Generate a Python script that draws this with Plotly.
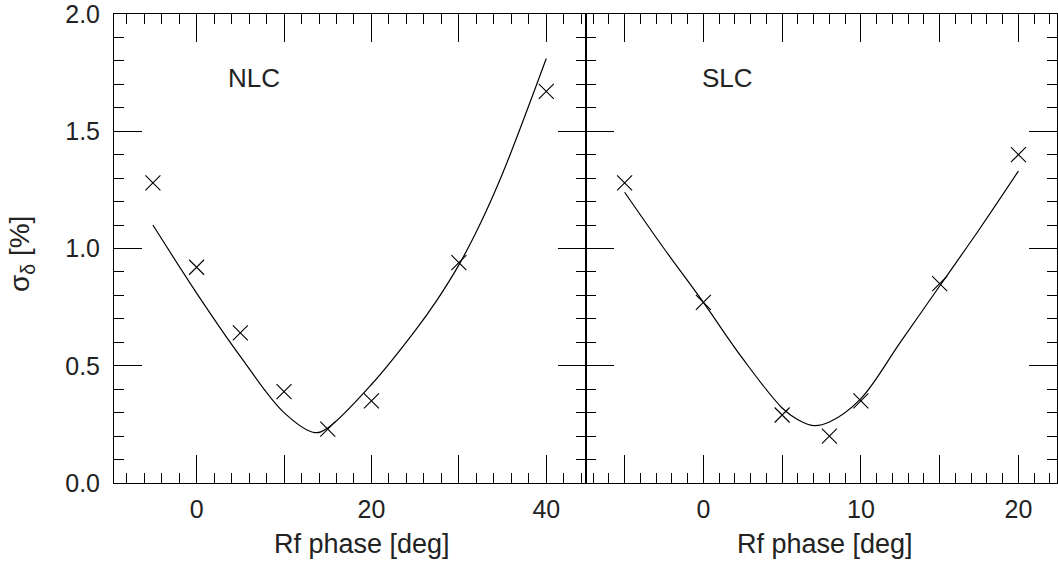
import plotly.graph_objects as go

# ---- data ----
nlc_phase = [-5, 0, 5, 10, 15, 20, 30, 40]
nlc_sigma = [1.28, 0.92, 0.64, 0.39, 0.23, 0.35, 0.94, 1.67]
nlc_fit_phase = [-5, 0, 5, 10, 13.5, 15, 20, 25, 27.5, 30, 32.5, 35, 37.5, 40]
nlc_fit_sigma = [1.10, 0.81, 0.54, 0.30, 0.215, 0.235, 0.42, 0.65, 0.78, 0.93, 1.11, 1.32, 1.56, 1.81]

slc_phase = [-5, 0, 5, 8, 10, 15, 20]
slc_sigma = [1.28, 0.77, 0.29, 0.20, 0.35, 0.85, 1.40]
slc_fit_phase = [-5, -2.5, 0, 2.5, 5, 6, 7, 8, 10, 12.5, 15, 17.5, 20]
slc_fit_sigma = [1.24, 1.00, 0.77, 0.53, 0.32, 0.27, 0.245, 0.26, 0.36, 0.60, 0.84, 1.08, 1.33]

nlc_tickvals = [0, 10, 20, 30, 40]
nlc_ticktext = ["0", " ", "20", " ", "40"]
slc_tickvals = [-5, 0, 5, 10, 15, 20]
slc_ticktext = [" ", "0", " ", "10", " ", "20"]
y_tickvals = [0, 0.5, 1.0, 1.5, 2.0]
y_ticktext = ["0.0", "0.5", "1.0", "1.5", "2.0"]

FONT = "Liberation Sans, Arial, sans-serif"
TXT = "#222222"
W, H = 1058, 561
L, R, T, B = 114, 0, 12, 78
split = (587 - L) / (W - L - R)

fig = go.Figure()
marker = dict(symbol="x-thin", size=15, line=dict(width=1.1, color="black"), color="black")
fig.add_trace(go.Scatter(x=nlc_fit_phase, y=nlc_fit_sigma, mode="lines", line=dict(color="black", width=1.2, shape="spline"), xaxis="x", yaxis="y"))
fig.add_trace(go.Scatter(x=nlc_phase, y=nlc_sigma, mode="markers", marker=marker, xaxis="x", yaxis="y"))
fig.add_trace(go.Scatter(x=slc_fit_phase, y=slc_fit_sigma, mode="lines", line=dict(color="black", width=1.2, shape="spline"), xaxis="x2", yaxis="y2"))
fig.add_trace(go.Scatter(x=slc_phase, y=slc_sigma, mode="markers", marker=marker, xaxis="x2", yaxis="y2"))

axis_common = dict(
    showline=True, linecolor="black", linewidth=1, mirror="ticks",
    ticks="inside", ticklen=28, tickwidth=1, tickcolor="black",
    showgrid=False, zeroline=False, ticklabeloverflow="allow",
    tickfont=dict(family=FONT, size=25, color=TXT),
)

fig.update_layout(
    width=W, height=H,
    margin=dict(l=L, r=R, t=T, b=B, pad=0),
    paper_bgcolor="white", plot_bgcolor="white",
    showlegend=False,
    xaxis=dict(domain=[0, split], range=[-9.45, 44.6], tickmode="array",
               tickvals=nlc_tickvals, ticktext=nlc_ticktext, anchor="y",
               minor=dict(ticks="inside", ticklen=10, tickmode="linear", tick0=0, dtick=2, tickcolor="black"),
               ticklabelstandoff=4, **axis_common),
    yaxis=dict(domain=[0, 1], range=[0, 2], tickmode="array",
               tickvals=y_tickvals, ticktext=y_ticktext, anchor="x",
               minor=dict(ticks="inside", ticklen=10, tickmode="linear", tick0=0, dtick=0.1, tickcolor="black"),
               ticklabelstandoff=8, **axis_common),
    xaxis2=dict(domain=[split, 1], range=[-7.42, 22.45], tickmode="array",
                tickvals=slc_tickvals, ticktext=slc_ticktext, anchor="y2",
                minor=dict(ticks="inside", ticklen=10, tickmode="linear", tick0=0, dtick=1, tickcolor="black"),
                ticklabelstandoff=4, **axis_common),
    yaxis2=dict(domain=[0, 1], range=[0, 2], tickmode="array",
                tickvals=y_tickvals, showticklabels=False, anchor="x2",
                minor=dict(ticks="inside", ticklen=10, tickmode="linear", tick0=0, dtick=0.1, tickcolor="black"),
                **axis_common),
)

def px_to_paper(px, py):
    return (px - L) / (W - L - R), (H - B - py) / (H - B - T)

def add_text(text, px, py, angle=0, size=27):
    x, y = px_to_paper(px, py)
    fig.add_annotation(text=text, x=x, y=y, xref="paper", yref="paper",
                       xanchor="center", yanchor="middle", showarrow=False,
                       textangle=angle, font=dict(family=FONT, size=size, color=TXT))

add_text("Rf phase [deg]", 362, 544)
add_text("Rf phase [deg]", 826, 544)
add_text("σ<sub>δ</sub> [%]", 22, 253, angle=-90, size=28)
add_text("NLC", 254, 76, size=26)
add_text("SLC", 728, 76, size=26)

fig.write_html("out.html", config={"displayModeBar": False},
               post_script="document.body.style.margin='0';document.body.style.overflow='hidden';")
